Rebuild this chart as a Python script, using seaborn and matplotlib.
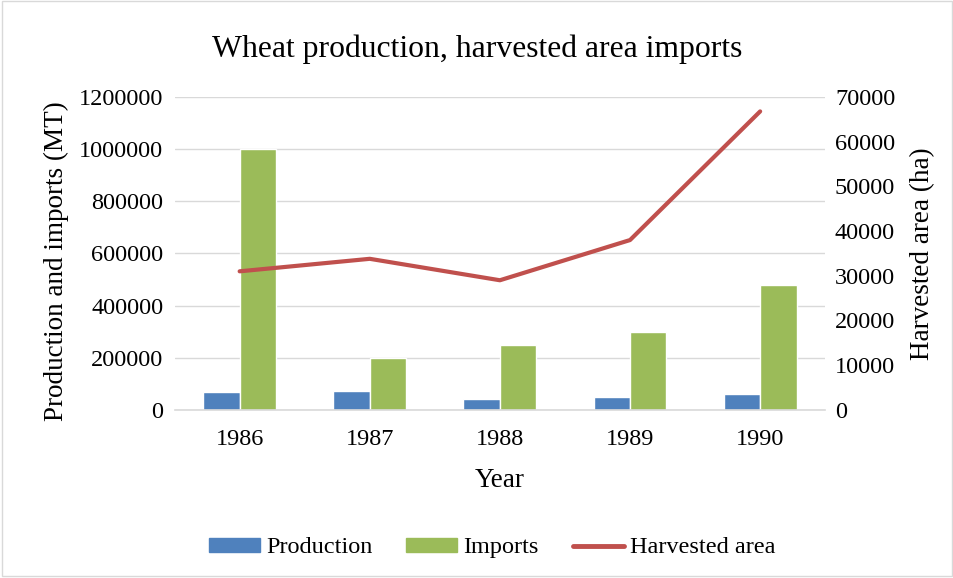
import numpy as np
import pandas as pd
import matplotlib.pyplot as plt
import seaborn as sns
from matplotlib.patches import Patch, Rectangle
from matplotlib.lines import Line2D

# chart values
years = ['1986', '1987', '1988', '1989', '1990']
production = [68000, 73000, 41000, 51000, 61000]
imports = [1000000, 200000, 250000, 300000, 480000]
harvested_area = [31000, 33800, 29000, 38000, 66800]

blue, green, red = '#4F81BD', '#9BBB59', '#C0504D'

sns.set_theme(style='white')
plt.rcParams['font.family'] = ['Liberation Serif', 'DejaVu Serif']
plt.rcParams['text.color'] = 'black'
plt.rcParams['axes.labelcolor'] = 'black'

df = pd.DataFrame({
    'Year': years * 2,
    'value': production + imports,
    'series': ['Production'] * len(years) + ['Imports'] * len(years),
})

fig = plt.figure(figsize=(9.54, 5.78), dpi=100)
ax = fig.add_axes([0.183, 0.291, 0.682, 0.541])

sns.barplot(data=df, x='Year', y='value', hue='series', palette=[blue, green],
            width=0.56, ax=ax, legend=False, saturation=1)

ax.set_ylim(0, 1200000)
ax.set_yticks(np.arange(0, 1200001, 200000))
ax.set_yticklabels([f'{v}' for v in range(0, 1200001, 200000)])
ax.grid(axis='y', color='#D9D9D9', linewidth=1)
ax.set_axisbelow(True)
for s in ['top', 'right', 'left']:
    ax.spines[s].set_visible(False)
ax.spines['bottom'].set_color('#D9D9D9')
ax.spines['bottom'].set_linewidth(1.2)
ax.tick_params(axis='both', length=0, labelsize=17.5, colors='black')
ax.tick_params(axis='y', pad=8)
ax.tick_params(axis='x', pad=14)
ax.set_xlabel('Year', fontsize=19.5)
ax.set_ylabel('Production and imports (MT)', fontsize=19.5)
ax.xaxis.set_label_coords(0.5, -0.185)
ax.yaxis.set_label_coords(-0.162, 0.476)

ax2 = ax.twinx()
sns.lineplot(x=np.arange(len(years)), y=harvested_area, color=red, linewidth=3,
             ax=ax2, solid_capstyle='round')
ax2.set_ylim(0, 70000)
ax2.set_yticks(np.arange(0, 70001, 10000))
for s in ['top', 'right', 'left', 'bottom']:
    ax2.spines[s].set_visible(False)
ax2.tick_params(axis='y', length=0, labelsize=17.5, pad=7, colors='black')
ax2.set_ylabel('Harvested area (ha)', fontsize=19.5)
ax2.yaxis.set_label_coords(1.131, 0.5)
ax.set_xlim(-0.5, len(years) - 0.5)

fig.suptitle('Wheat production, harvested area imports', fontsize=22.8,
             y=0.915, va='center')

handles = [Patch(color=blue, label='Production'),
           Patch(color=green, label='Imports'),
           Line2D([0], [0], color=red, linewidth=3.5, label='Harvested area')]
fig.legend(handles=handles, loc='center', bbox_to_anchor=(0.516, 0.052), ncol=3,
           frameon=False, fontsize=17.5, handlelength=2.1, handleheight=0.5,
           handletextpad=0.25, columnspacing=1.4)

fig.patches.append(Rectangle((0.002, 0.004), 0.996, 0.994, transform=fig.transFigure,
                             fill=False, edgecolor='#D9D9D9', linewidth=1))

fig.savefig('out.png', dpi=100)
